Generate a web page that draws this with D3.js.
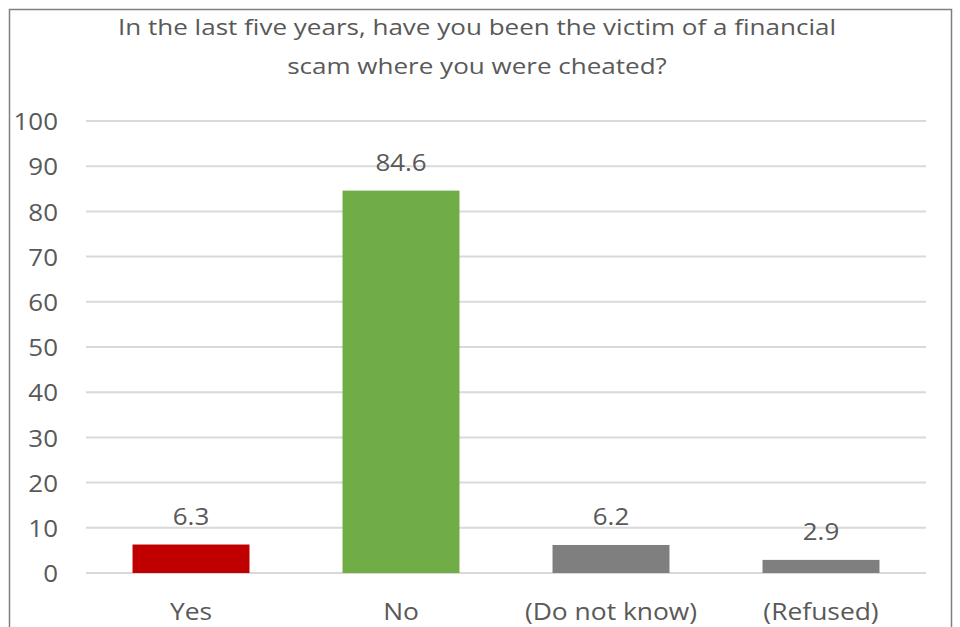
<!DOCTYPE html>
<html>
<head>
<meta charset="utf-8">
<script src="https://cdn.jsdelivr.net/npm/d3@7"></script>
<style>
  html, body { margin: 0; padding: 0; background: #ffffff; }
  svg { display: block; }
  text { font-family: "Open Sans", "Liberation Sans", sans-serif; fill: #595959; }
</style>
</head>
<body>
<svg id="chart" width="960" height="627"></svg>
<script>
// Survey responses (percent of respondents)
const categories = ["Yes", "No", "(Do not know)", "(Refused)"];
const values = [6.3, 84.6, 6.2, 2.9];
const barColors = ["#c00000", "#70ad47", "#7f7f7f", "#7f7f7f"];
const yTicks = [0, 10, 20, 30, 40, 50, 60, 70, 80, 90, 100];
const titleLines = [
  "In the last five years, have you been the victim of a financial",
  "scam where you were cheated?"
];

const svg = d3.select("#chart");

// outer frame of the chart area
svg.append("rect")
  .attr("x", 9.5).attr("y", 9.5)
  .attr("width", 942).attr("height", 640)
  .attr("fill", "#ffffff")
  .attr("stroke", "#7f7f7f")
  .attr("stroke-width", 1.5);

const plot = { left: 86, right: 926, top: 121, bottom: 573 };

const x = d3.scaleBand()
  .domain(categories)
  .range([plot.left, plot.right])
  .paddingInner(0.443)
  .paddingOuter(0.2215);

const y = d3.scaleLinear()
  .domain([0, 100])
  .range([plot.bottom, plot.top]);

// horizontal gridlines
svg.append("g")
  .selectAll("line")
  .data(yTicks)
  .join("line")
  .attr("x1", plot.left).attr("x2", plot.right)
  .attr("y1", d => y(d)).attr("y2", d => y(d))
  .attr("stroke", "#d9d9d9")
  .attr("stroke-width", 2);

// y axis labels (slightly wide lettering)
const yAxis = d3.axisLeft(y).tickValues(yTicks).tickSize(0).tickPadding(0);
const yg = svg.append("g")
  .attr("transform", "translate(58,0)")
  .call(yAxis);
yg.select(".domain").remove();
yg.selectAll("text")
  .attr("font-size", 24)
  .attr("font-family", null)
  .attr("dy", "0.36em")
  .attr("transform", "scale(1.08,1)")
  .style("fill", "#595959");

// bars
svg.append("g")
  .selectAll("rect")
  .data(values)
  .join("rect")
  .attr("x", (d, i) => x(categories[i]))
  .attr("width", x.bandwidth())
  .attr("y", d => y(d))
  .attr("height", d => y(0) - y(d))
  .attr("fill", (d, i) => barColors[i]);

// value labels above bars
svg.append("g")
  .selectAll("text")
  .data(values)
  .join("text")
  .attr("transform", (d, i) =>
    `translate(${x(categories[i]) + x.bandwidth() / 2},${y(d) - 20}) scale(1.08,1)`)
  .attr("text-anchor", "middle")
  .attr("font-size", 24)
  .text(d => d.toFixed(1));

// category labels
const xAxis = d3.axisBottom(x).tickSize(0).tickPadding(0);
const xg = svg.append("g")
  .attr("transform", "translate(0,620)")
  .call(xAxis);
xg.select(".domain").remove();
xg.selectAll("text")
  .attr("font-size", 24)
  .attr("font-family", null)
  .attr("dy", 0)
  .attr("y", 0)
  .attr("transform", "scale(1.1,1)")
  .style("fill", "#595959");

// title, two centred lines
svg.append("g")
  .selectAll("text")
  .data(titleLines)
  .join("text")
  .attr("transform", (d, i) => `translate(477,${35 + i * 39}) scale(1.24,1)`)
  .attr("text-anchor", "middle")
  .attr("font-size", 21)
  .text(d => d);
</script>
</body>
</html>
